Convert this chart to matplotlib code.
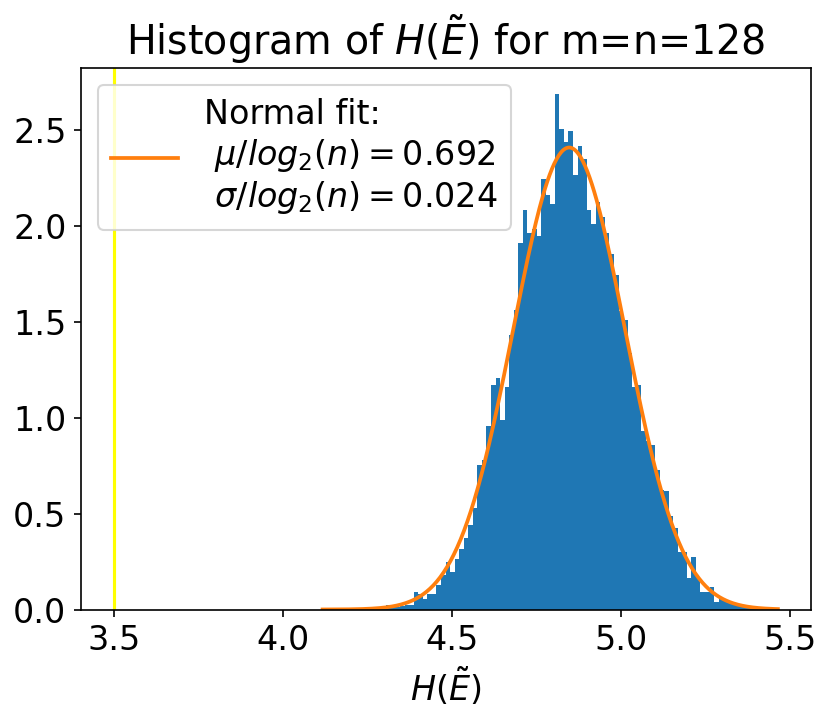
import numpy as np
import matplotlib
matplotlib.use("Agg")
import matplotlib.pyplot as plt

# ── Data ─────────────────────────────────────────────────────────────────────
n = 128
h_min, h_max = 4.117, 5.465      # range of the sampled H(E~)
n_bins = 100
density = [
    0.004, 0.0, 0.0, 0.004, 0.0, 0.004, 0.0, 0.004, 0.004, 0.004,
    0.009, 0.004, 0.007, 0.009, 0.024, 0.011, 0.015, 0.018, 0.022, 0.026,
    0.092, 0.080, 0.057, 0.080, 0.083, 0.127, 0.179, 0.248, 0.196, 0.262,
    0.318, 0.375, 0.439, 0.531, 0.753, 0.780, 0.956, 1.169, 1.210, 0.990,
    1.160, 1.430, 1.565, 1.910, 2.087, 1.962, 1.988, 1.948, 2.248, 2.161,
    2.118, 2.691, 2.509, 2.440, 2.497, 2.266, 2.420, 2.350, 2.085, 2.010,
    2.128, 2.050, 1.967, 1.853, 1.745, 1.560, 1.512, 1.340, 1.163, 1.170,
    0.930, 0.880, 0.860, 0.730, 0.625, 0.620, 0.490, 0.425, 0.300, 0.300,
    0.162, 0.272, 0.170, 0.093, 0.093, 0.116, 0.041, 0.064, 0.050, 0.045,
    0.030, 0.025, 0.020, 0.020, 0.015, 0.012, 0.008, 0.006, 0.004, 0.004,
]
mu = 4.847        # normal fit mean
sigma = 0.1655    # normal fit std
threshold = 3.5   # yellow reference line

# ── Plot ─────────────────────────────────────────────────────────────────────
edges = np.linspace(h_min, h_max, n_bins + 1)
centers = 0.5 * (edges[:-1] + edges[1:])

fig = plt.figure(figsize=(831 / 150, 718 / 150), dpi=150)
ax = fig.add_axes([0.0975, 0.1511, 0.8785, 0.7542])

ax.hist(centers, bins=edges, weights=density)

x = np.linspace(h_min, h_max, 400)
pdf = np.exp(-0.5 * ((x - mu) / sigma) ** 2) / (sigma * np.sqrt(2 * np.pi))
lg = np.log2(n)
ax.plot(x, pdf, color="C1", lw=1.8,
        label="Normal fit:\n $\\mu/log_2(n) = %.3f$\n $\\sigma/log_2(n) = %.3f$"
        % (mu / lg, sigma / lg))
ax.axvline(threshold, color="yellow")

ax.set_title(r"Histogram of $H(\tilde{E})$ for m=n=128", fontsize=19)
ax.set_xlabel(r"$H(\tilde{E})$", fontsize=16)
ax.tick_params(labelsize=16)
ax.legend(loc="upper left", fontsize=16)

fig.savefig("out.png", dpi=150)
